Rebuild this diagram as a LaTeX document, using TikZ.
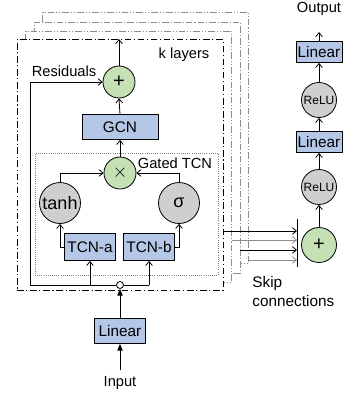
\documentclass[tikz,border=0pt]{standalone}
\usepackage{fontspec}
\setmainfont{Liberation Sans}
\usetikzlibrary{arrows.meta}
\definecolor{boxblue}{HTML}{B4C7E7}
\definecolor{opgreen}{HTML}{C5E0B4}
\definecolor{opgray}{HTML}{D0CECE}
\definecolor{backline}{HTML}{8C8C8C}
\begin{document}
\begin{tikzpicture}[x=0.75pt,y=-0.75pt,line width=0.6pt,
  >={Straight Barb[length=3pt,width=5pt]},
  fillarrow/.style={-{Triangle[length=5pt,width=4pt]}},
  bluebox/.style={draw,fill=boxblue,inner sep=0pt,font=\fontsize{11.5}{13}\selectfont},
  greenop/.style={draw,circle,fill=opgreen,inner sep=0pt,minimum size=24pt,font=\fontsize{15}{17}\selectfont},
  grayop/.style={draw,circle,fill=opgray,inner sep=0pt},
  layerbox/.style={rectangle,fill=white,minimum width=154.5pt,minimum height=188.25pt,inner sep=0pt},
  lbl/.style={inner sep=0pt,font=\fontsize{11}{13}\selectfont}]
\useasboundingbox (0,0) rectangle (345,399);
% stacked layers
\node[layerbox,draw=backline,dash pattern=on 5pt off 1.5pt on 0.8pt off 1.5pt on 0.8pt off 1.5pt] (L4) at (145.5,138) {};
\node[layerbox,draw=backline,dash pattern=on 5pt off 1.5pt on 0.8pt off 1.5pt] (L3) at (137,147.5) {};
\node[layerbox,draw=backline,dash pattern=on 5pt off 1.5pt on 0.8pt off 1.5pt on 0.8pt off 1.5pt] (L2) at (128.5,156.5) {};
\node[layerbox,draw=black,dash pattern=on 5pt off 2pt on 0.8pt off 2pt] (L1) at (120,165) {};
\node[lbl] (klayers) at (184,55) {k layers};
% gated TCN box
\node[draw=gray,densely dotted,minimum width=137.25pt,minimum height=91.5pt,inner sep=0pt] (gated) at (126.5,214) {};
\node[lbl] (gatedlbl) at (175,163) {Gated TCN};
% ops
\node[greenop] (plus) at (119,82) {+};
\node[bluebox,minimum width=57pt,minimum height=18.75pt] (gcn) at (120,127) {GCN};
\node[greenop] (times) at (120,173) {$\times$};
\node[grayop,minimum size=30.75pt,font=\fontsize{13.5}{15}\selectfont] (tanh) at (60,203) {tanh};
\node[grayop,minimum size=30.75pt,font=\fontsize{13.5}{15}\selectfont] (sigma) at (179,203) {σ};
\node[bluebox,minimum width=38.25pt,minimum height=20.25pt] (tcna) at (90,247) {TCN-a};
\node[bluebox,minimum width=38.25pt,minimum height=20.25pt] (tcnb) at (149,247) {TCN-b};
\node[lbl] (resid) at (64,71) {Residuals};
% bottom distribution
\coordinate (jl) at (30,285);
\coordinate (jr) at (149,285);
\node[draw,circle,fill=white,minimum size=5.25pt,inner sep=0pt] (spot) at (120,285) {};
\node[bluebox,minimum width=38.25pt,minimum height=18.75pt] (inlin) at (120,331) {Linear};
\node[lbl] (input) at (120,383) {Input};
% connections inside layer
\draw (jl) -- (spot.west);
\draw (spot.east) -- (jr);
\draw[->] (jr) -- (tcnb.south);
\draw[->] (tcna.south |- jl) -- (tcna.south);
\draw[->] (jl) |- (plus.west);
\draw[->] (tcna.west) -| (tanh.south);
\draw[->] (tcnb.east) -| (sigma.south);
\draw[->] (tanh.north) |- (times.west);
\draw[->] (sigma.north) |- (times.east);
\draw[->] (times.north) -- (gcn.south);
\draw[->] (gcn.north) -- (plus.south);
\draw[->] (plus.north) -- (plus.north |- L1.north);
\draw[fillarrow] (inlin.north) -- (spot.south);
\draw[fillarrow] (input.north) ++(0,-6) -- (inlin.south);
% output head
\node[lbl] (output) at (319,9) {Output};
\node[bluebox,minimum width=34.5pt,minimum height=15.75pt] (lin1) at (319,52) {Linear};
\node[grayop,minimum size=26.25pt,font=\fontsize{9}{10}\selectfont] (relu1) at (319,100) {ReLU};
\node[bluebox,minimum width=34.5pt,minimum height=15.75pt] (lin2) at (319,142) {Linear};
\node[grayop,minimum size=26.25pt,font=\fontsize{9}{10}\selectfont] (relu2) at (319,187) {ReLU};
\node[greenop,minimum size=26.25pt] (sum) at (319,245) {+};
\coordinate (bartop) at (297,219);
\coordinate (barbot) at (297,267);
\draw (bartop) -- (barbot);
\coordinate (s1) at (297,231);
\coordinate (s2) at (297,240);
\coordinate (s3) at (297,250);
\coordinate (s4) at (297,260);
\draw[->] (L1.east |- s1) -- (s1);
\draw[->,backline] (L2.east |- s2) -- (s2);
\draw[->] (L3.east |- s3) -- (s3);
\draw[->,backline] (L4.east |- s4) -- (s4);
\draw[->] (sum.north) -- (relu2.south);
\draw[->] (relu2.north) -- (lin2.south);
\draw[->] (lin2.north) -- (relu1.south);
\draw[->] (relu1.north) -- (lin1.south);
\draw[->] (lin1.north) -- ++(0,-9);
\node[lbl,align=left,anchor=north west,font=\fontsize{11.5}{14}\selectfont] (skip) at (252,276) {Skip\\connections};
\end{tikzpicture}
\end{document}
